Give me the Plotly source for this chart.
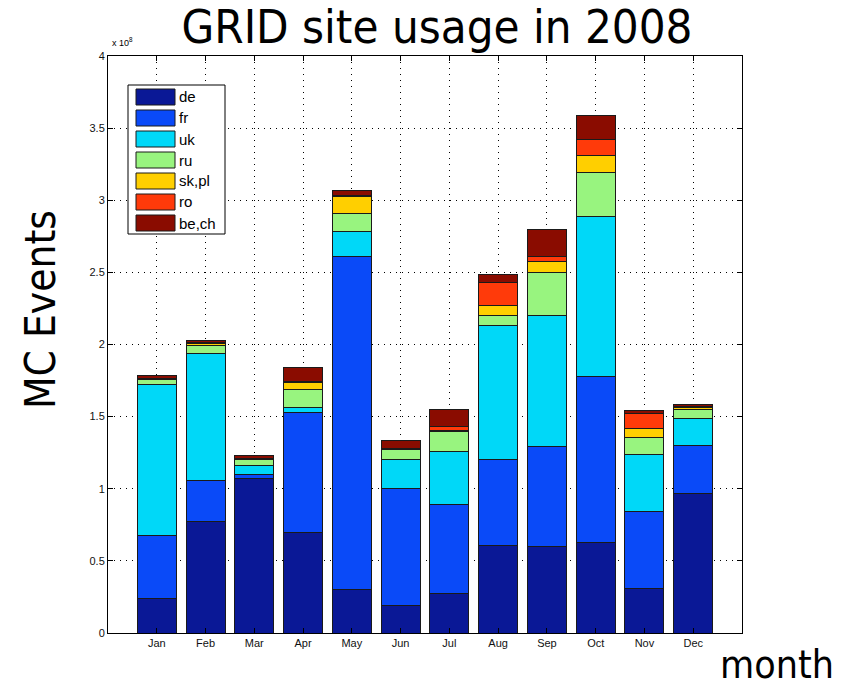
import plotly.graph_objects as go

# Monthly MC events per site group, in units of 1e8 events
months = ["Jan", "Feb", "Mar", "Apr", "May", "Jun",
          "Jul", "Aug", "Sep", "Oct", "Nov", "Dec"]

de   = [0.24, 0.77, 1.07, 0.70, 0.30, 0.19, 0.275, 0.61, 0.60, 0.63, 0.31, 0.97]
fr   = [0.435, 0.29, 0.03, 0.83, 2.31, 0.81, 0.615, 0.59, 0.69, 1.15, 0.535, 0.33]
uk   = [1.05, 0.88, 0.06, 0.03, 0.17, 0.20, 0.365, 0.93, 0.91, 1.11, 0.395, 0.185]
ru   = [0.03, 0.05, 0.045, 0.13, 0.13, 0.075, 0.14, 0.07, 0.30, 0.30, 0.115, 0.067]
skpl = [0.005, 0.02, 0.003, 0.05, 0.115, 0.003, 0.012, 0.07, 0.075, 0.12, 0.06, 0.012]
ro   = [0.005, 0.003, 0.002, 0.005, 0.005, 0.002, 0.028, 0.16, 0.035, 0.11, 0.11, 0.003]
bech = [0.02, 0.015, 0.02, 0.095, 0.04, 0.055, 0.117, 0.057, 0.185, 0.17, 0.015, 0.016]

series_names = ["de", "fr", "uk", "ru", "sk,pl", "ro", "be,ch"]
series_values = [de, fr, uk, ru, skpl, ro, bech]
series_colors = ["#0a1896", "#0a4af8", "#00d8f8", "#98f47f",
                 "#ffcf00", "#ff3a0a", "#8a0c00"]

y_ticks = [0, 0.5, 1, 1.5, 2, 2.5, 3, 3.5, 4]

# Plot area geometry (pixels) used for the hand-built legend box
W, H = 861, 690
L, R, T, B = 108, 119, 56, 57
PW, PH = W - L - R, H - T - B


def px(x):
    return (x - L) / PW


def py(y):
    return (H - B - y) / PH


fig = go.Figure()
for name, vals, col in zip(series_names, series_values, series_colors):
    fig.add_trace(go.Bar(
        x=months, y=vals, name=name, width=0.8,
        marker=dict(color=col, line=dict(color="#1a1a1a", width=1)),
        showlegend=False,
    ))

title_font = "DejaVu Sans Condensed, DejaVu Sans, sans-serif"
tick_font = dict(family="Liberation Sans, Arial, sans-serif", size=11, color="#111111")

fig.update_layout(
    width=W, height=H,
    margin=dict(l=L, r=R, t=T, b=B),
    paper_bgcolor="white", plot_bgcolor="white",
    barmode="stack",
    title=dict(text="GRID site usage in 2008", x=px(437), xref="paper",
               xanchor="center", y=1 - 27 / H, yanchor="middle",
               font=dict(family=title_font, size=47, color="black")),
)

axis_common = dict(
    showline=True, linecolor="black", linewidth=1, mirror="allticks",
    ticks="inside", ticklen=5, tickcolor="black",
    showgrid=True, gridcolor="black", gridwidth=1, griddash="1px,5px",
    zeroline=False, tickfont=tick_font, layer="above traces",
)
fig.update_xaxes(range=[-1, 12], **axis_common)
fig.update_yaxes(range=[0, 4], tickvals=y_ticks,
                 ticktext=[f"{v:g}" for v in y_ticks], **axis_common)

# Axis titles and exponent marker
fig.add_annotation(text="MC Events", textangle=-90, xref="paper", yref="paper",
                   x=px(40), y=py(310), xanchor="center", yanchor="middle",
                   showarrow=False,
                   font=dict(family=title_font, size=42, color="black"))
fig.add_annotation(text="month", xref="paper", yref="paper",
                   x=px(777), y=py(664), xanchor="center", yanchor="middle",
                   showarrow=False,
                   font=dict(family=title_font, size=39, color="black"))
fig.add_annotation(text="x 10<sup>8</sup>", xref="paper", yref="paper",
                   x=px(110), y=py(50), xanchor="left", yanchor="bottom",
                   showarrow=False,
                   font=dict(family="Liberation Sans, Arial", size=9, color="black"))

# Legend box with wide colour swatches
fig.add_shape(type="rect", xref="paper", yref="paper",
              x0=px(128), x1=px(225), y0=py(85), y1=py(234),
              line=dict(color="black", width=1), fillcolor="white")
for i, (name, col) in enumerate(zip(series_names, series_colors)):
    top = 89 + i * 21
    fig.add_shape(type="rect", xref="paper", yref="paper",
                  x0=px(136), x1=px(175), y0=py(top), y1=py(top + 16),
                  line=dict(color="#1a1a1a", width=1), fillcolor=col)
    fig.add_annotation(text=name, xref="paper", yref="paper",
                       x=px(177), y=py(top + 8), xanchor="left", yanchor="middle",
                       showarrow=False,
                       font=dict(family="Liberation Sans, Arial", size=15, color="black"))

fig.write_html("out.html")
